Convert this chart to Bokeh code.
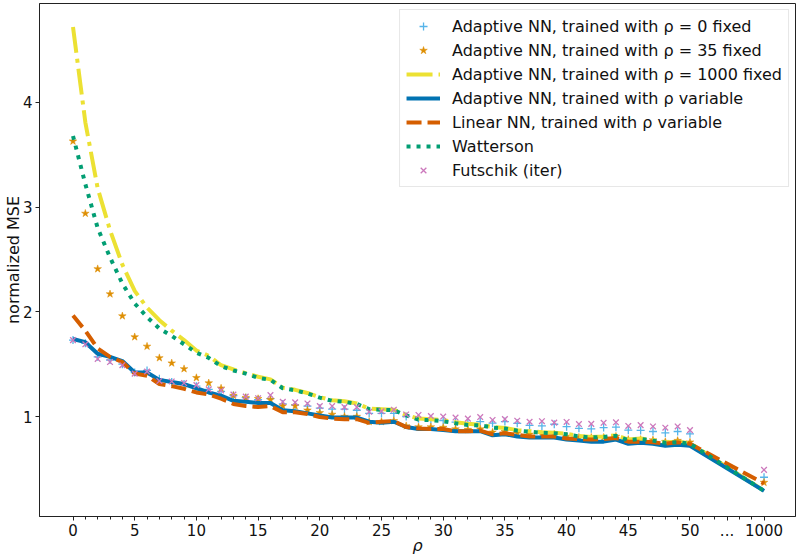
from bokeh.plotting import figure
from bokeh.models import Range1d, FixedTicker
from bokeh.embed import file_html
from bokeh.resources import INLINE

# ---- data -------------------------------------------------------------
rho = list(range(51)) + [1000]

nn_rho0 = [1.73, 1.70, 1.57, 1.54, 1.50, 1.42, 1.44, 1.36, 1.33, 1.31,
           1.29, 1.26, 1.24, 1.20, 1.18, 1.16, 1.17, 1.12, 1.11, 1.10,
           1.08, 1.07, 1.07, 1.06, 1.03, 1.03, 1.03, 1.00, 0.978, 0.968,
           0.962, 0.946, 0.94, 0.952, 0.936, 0.952, 0.935, 0.915, 0.91, 0.926,
           0.903, 0.887, 0.882, 0.894, 0.898, 0.87, 0.867, 0.857, 0.843, 0.857,
           0.835, 0.42]

nn_rho35 = [3.63, 2.94, 2.41, 2.17, 1.96, 1.76, 1.67, 1.56, 1.51, 1.455,
            1.37, 1.32, 1.27, 1.20, 1.18, 1.17, 1.16, 1.10, 1.10, 1.06,
            1.035, 1.02, 1.00, 1.00, 0.95, 0.95, 0.96, 0.91, 0.90, 0.90,
            0.895, 0.88, 0.875, 0.88, 0.85, 0.855, 0.84, 0.83, 0.83, 0.83,
            0.81, 0.80, 0.80, 0.80, 0.81, 0.78, 0.78, 0.775, 0.76, 0.77,
            0.755, 0.37]

nn_rho1000 = [4.72, 3.81, 3.18, 2.78, 2.45, 2.20, 2.04, 1.92, 1.82, 1.73,
              1.63, 1.58, 1.49, 1.45, 1.415, 1.38, 1.355, 1.275, 1.255, 1.225,
              1.185, 1.155, 1.145, 1.125, 1.075, 1.07, 1.065, 1.015, 0.98, 0.975,
              0.965, 0.945, 0.93, 0.92, 0.90, 0.89, 0.87, 0.86, 0.85, 0.845,
              0.835, 0.815, 0.805, 0.81, 0.82, 0.78, 0.79, 0.775, 0.755, 0.76,
              0.745, 0.29]

nn_variable = [1.74, 1.71, 1.60, 1.57, 1.53, 1.42, 1.42, 1.35, 1.33, 1.31,
               1.27, 1.23, 1.20, 1.15, 1.14, 1.13, 1.13, 1.06, 1.05, 1.03,
               1.01, 0.99, 0.99, 0.99, 0.95, 0.94, 0.95, 0.90, 0.88, 0.88,
               0.87, 0.86, 0.86, 0.86, 0.82, 0.83, 0.81, 0.80, 0.80, 0.80,
               0.78, 0.77, 0.76, 0.76, 0.78, 0.74, 0.75, 0.74, 0.72, 0.73,
               0.72, 0.29]

linear_variable = [1.965, 1.82, 1.65, 1.57, 1.52, 1.41, 1.39, 1.31, 1.29, 1.265,
                   1.23, 1.21, 1.17, 1.12, 1.10, 1.09, 1.10, 1.04, 1.04, 1.025,
                   0.995, 0.98, 0.975, 0.975, 0.94, 0.95, 0.955, 0.90, 0.885, 0.88,
                   0.88, 0.86, 0.86, 0.866, 0.83, 0.84, 0.825, 0.81, 0.81, 0.81,
                   0.79, 0.785, 0.78, 0.785, 0.795, 0.76, 0.76, 0.755, 0.74, 0.755,
                   0.74, 0.36]

watterson = [3.68, 3.22, 2.80, 2.52, 2.27, 2.08, 1.95, 1.84, 1.77, 1.69,
             1.61, 1.56, 1.48, 1.44, 1.41, 1.37, 1.35, 1.27, 1.25, 1.22,
             1.18, 1.15, 1.14, 1.12, 1.07, 1.065, 1.06, 1.01, 0.97, 0.965,
             0.955, 0.935, 0.92, 0.915, 0.895, 0.885, 0.865, 0.855, 0.845, 0.84,
             0.83, 0.81, 0.80, 0.805, 0.815, 0.775, 0.785, 0.77, 0.75, 0.755,
             0.74, 0.29]

futschik = [1.73, 1.69, 1.55, 1.52, 1.49, 1.41, 1.43, 1.34, 1.335, 1.32,
            1.30, 1.26, 1.25, 1.21, 1.19, 1.175, 1.205, 1.14, 1.135, 1.125,
            1.10, 1.10, 1.09, 1.09, 1.045, 1.05, 1.065, 1.02, 1.015, 1.005,
            1.00, 0.99, 0.98, 0.995, 0.967, 0.975, 0.96, 0.95, 0.955, 0.942,
            0.948, 0.928, 0.93, 0.94, 0.945, 0.91, 0.918, 0.905, 0.893, 0.905,
            0.87, 0.49]

major_ticks = [0, 5, 10, 15, 20, 25, 30, 35, 40, 45, 50]
break_label = "..."
last_label = "1000"

# ---- broken x scale: 0..50 linear, then a gap, then 1000 ---------------
GAP_POS = 53
LAST_POS = 56


def xpos(r):
    return r if r <= 50 else LAST_POS


x = [xpos(r) for r in rho]

FONT = "DejaVu Sans"

p = figure(width=800, height=559, output_backend="svg", toolbar_location=None,
           x_range=Range1d(-2.715, 58.55), y_range=Range1d(0.045, 4.945),
           min_border_left=39, min_border_right=5, min_border_top=3,
           min_border_bottom=43)
p.background_fill_color = "white"
p.border_fill_color = "white"
p.outline_line_color = "#222222"
p.outline_line_width = 1
p.xgrid.visible = False
p.ygrid.visible = False

# markers / lines in the same order as the legend
p.scatter(x, nn_rho0, marker="cross", size=8, line_width=1.3,
          color="#56B4E9", legend_label="Adaptive NN, trained with ρ = 0 fixed")
p.scatter(x, nn_rho35, marker="star", size=8, line_width=0.5,
          color="#DE8F05", legend_label="Adaptive NN, trained with ρ = 35 fixed")
p.line(x, nn_rho1000, color="#ECE133", line_width=4, line_dash="26 6 4 6",
       legend_label="Adaptive NN, trained with ρ = 1000 fixed")
p.line(x, nn_variable, color="#0173B2", line_width=4,
       legend_label="Adaptive NN, trained with ρ variable")
p.line(x, linear_variable, color="#D55E00", line_width=4, line_dash="15 6",
       legend_label="Linear NN, trained with ρ variable")
p.line(x, watterson, color="#029E73", line_width=4, line_dash="4 6",
       legend_label="Watterson")
p.scatter(x, futschik, marker="x", size=8, line_width=1.3,
          color="#CC78BC", legend_label="Futschik (iter)")

# axes
ticks = major_ticks + [GAP_POS, LAST_POS]
p.xaxis.ticker = FixedTicker(ticks=ticks, minor_ticks=list(range(LAST_POS + 1)))
overrides = {t: str(t) for t in major_ticks}
overrides[GAP_POS] = break_label
overrides[LAST_POS] = last_label
p.xaxis.major_label_overrides = overrides
p.yaxis.ticker = FixedTicker(ticks=[1, 2, 3, 4], minor_ticks=[])

for ax in (p.xaxis[0], p.yaxis[0]):
    ax.axis_line_color = "#222222"
    ax.major_tick_line_color = "#222222"
    ax.minor_tick_line_color = "#222222"
    ax.major_tick_in = 0
    ax.major_tick_out = 4
    ax.minor_tick_in = 0
    ax.minor_tick_out = 3
    ax.major_label_text_font = FONT
    ax.major_label_text_font_size = "15px"
    ax.major_label_text_color = "#111111"
    ax.axis_label_text_font = FONT
    ax.axis_label_text_font_size = "16px"
    ax.axis_label_text_font_style = "normal"
    ax.axis_label_text_color = "#111111"

p.xaxis.major_label_standoff = 3
p.xaxis.axis_label_standoff = -3
p.yaxis.major_label_standoff = 3
p.yaxis.axis_label_standoff = -3

p.xaxis.axis_label = "ρ"
p.xaxis.axis_label_text_font_style = "italic"
p.yaxis.axis_label = "normalized MSE"

lg = p.legend[0]
lg.location = "top_right"
lg.margin = 6
lg.padding = 6
lg.spacing = 4
lg.glyph_width = 34
lg.glyph_height = 20
lg.label_height = 20
lg.label_standoff = 12
lg.label_text_font = FONT
lg.label_text_font_size = "16px"
lg.label_text_color = "#111111"
lg.border_line_color = "#d0d0d0"
lg.border_line_width = 1
lg.background_fill_alpha = 0.8

open("out.html", "w").write(file_html(p, INLINE))
